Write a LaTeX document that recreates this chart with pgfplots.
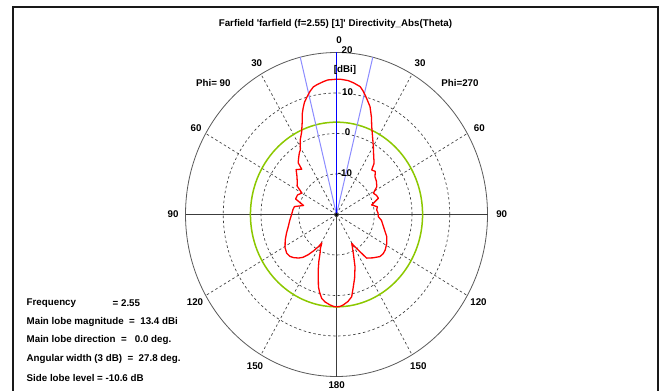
\documentclass[border=0pt]{standalone}
\usepackage{pgfplots}
\usepackage{pgfplotstable}
\pgfplotsset{compat=1.18}
\usepackage{fontspec}
\setmainfont{Liberation Sans}[Ligatures=TeXOff]
\definecolor{cstgreen}{RGB}{140,200,0}
\definecolor{lblue}{RGB}{140,140,255}
\definecolor{gridgray}{RGB}{60,60,60}
\definecolor{ringgray}{RGB}{90,90,90}
\newcommand\lbl{\fontsize{9.8}{11}\selectfont\bfseries}

% theta [deg], directivity [dBi], side (-1: Phi=90 left, +1: Phi=270 right)
\pgfplotstableread{
t d s
0 13.4 -1
4 13.3 -1
6 13.0 -1
9 12.5 -1
11 12.1 -1
13 11.2 -1
15 10.1 -1
17 9.0 -1
18.5 7.8 -1
20 6.5 -1
22 4.3 -1
24.5 2.3 -1
27.5 0.8 -1
31 -1.4 -1
33 -1.9 -1
36 -2.9 -1
38.5 -3.7 -1
39.5 -5.5 -1
44 -4.6 -1
48 -5.9 -1
53 -7.0 -1
56 -7.4 -1
60 -9.4 -1
65 -8.6 -1
70.5 -8.5 -1
75.7 -11.0 -1
80 -8.7 -1
84 -8.4 -1
90 -8.1 -1
97 -7.5 -1
103 -6.9 -1
109 -6.0 -1
115 -5.0 -1
121 -4.1 -1
126 -3.7 -1
130 -3.9 -1
133 -4.4 -1
137 -5.3 -1
140 -6.2 -1
143 -7.6 -1
146 -9.2 -1
149 -10.8 -1
151 -12.0 -1
153 -10.6 -1
155.5 -9.5 -1
158 -7.5 -1
160.5 -5.5 -1
163 -3.5 -1
165 -1.5 -1
167 -0.2 -1
169.3 1.1 -1
172 1.8 -1
175.6 2.4 -1
178 2.7 -1
180 2.8 -1
180 2.8 1
177.5 2.7 1
175.4 2.4 1
172 1.7 1
168.8 0.7 1
166 -1.6 1
163 -3.6 1
159.2 -6.2 1
155.1 -9.4 1
150.5 -11.8 1
146.7 -9.5 1
143.5 -6.6 1
138 -5.6 1
132.1 -4.5 1
128 -4.3 1
124.3 -4.4 1
118 -4.9 1
112.4 -5.6 1
103.6 -7.2 1
97 -8.0 1
92.8 -8.9 1
88 -9.0 1
84 -9.3 1
80 -9.0 1
75.8 -10.4 1
70.1 -8.2 1
66 -8.4 1
61.8 -8.9 1
57.2 -7.3 1
52 -6.6 1
47.6 -6.2 1
44 -5.2 1
40.3 -5.6 1
38.2 -3.9 1
34 -2.4 1
30.2 -0.6 1
26.5 1.4 1
23.3 3.6 1
21 5.8 1
18.4 8.1 1
15 10.1 1
13 11.3 1
11.2 12.2 1
8 12.8 1
5.4 13.2 1
2 13.4 1
0 13.4 1
}\farfielddata

\begin{document}
\begin{tikzpicture}
\useasboundingbox (0,0) rectangle (661bp,391bp);
\fill[white] (0,0) rectangle (661bp,391bp);
\begin{scope}
\clip (0,0) rectangle (661bp,391bp);
\begin{axis}[at={(0,0)}, anchor=south west, scale only axis,
  width=661bp, height=391bp,
  xmin=-89.139, xmax=85.96, ymin=-43.58, ymax=52.96,
  hide axis, clip=false]
  % dashed grid rings (-10, 0, 10 dBi)
  \draw[gridgray, line width=0.65bp, dash pattern=on 2.5bp off 2.5bp] (axis cs:0,0) ellipse [x radius=10, y radius=10];
  \draw[gridgray, line width=0.65bp, dash pattern=on 2.5bp off 2.5bp] (axis cs:0,0) ellipse [x radius=20, y radius=20];
  \draw[gridgray, line width=0.65bp, dash pattern=on 2.5bp off 2.5bp] (axis cs:0,0) ellipse [x radius=30, y radius=30];
  % dashed spokes
  \draw[gridgray, line width=0.65bp, dash pattern=on 2.5bp off 2.5bp]
    (axis cs:0,0) -- (axis cs:20,34.641)
    (axis cs:0,0) -- (axis cs:-20,34.641)
    (axis cs:0,0) -- (axis cs:34.641,20)
    (axis cs:0,0) -- (axis cs:-34.641,20)
    (axis cs:0,0) -- (axis cs:34.641,-20)
    (axis cs:0,0) -- (axis cs:-34.641,-20)
    (axis cs:0,0) -- (axis cs:20,-34.641)
    (axis cs:0,0) -- (axis cs:-20,-34.641);
  % outer ring (20 dBi)
  \draw[ringgray, line width=0.8bp] (axis cs:0,0) ellipse [x radius=40, y radius=40];
  % main axes
  \draw[gridgray, line width=0.8bp] (axis cs:-40,0) -- (axis cs:40,0);
  \draw[gridgray, line width=0.8bp] (axis cs:0,-40) -- (axis cs:0,40);
  % side lobe level circle (2.8 dBi)
  \draw[cstgreen, line width=1.5bp] (axis cs:0,0) ellipse [x radius=22.8, y radius=22.8];
  % 3 dB angular width lines (+-13.9 deg)
  \addplot[lblue, line width=1bp] coordinates {(0,0) (-9.607,38.829)};
  \addplot[lblue, line width=1bp] coordinates {(0,0) (9.607,38.829)};
  % pattern
  \addplot[red, line width=1.3bp, line join=round]
    table[x expr={\thisrow{s}*(\thisrow{d}+20)*sin(\thisrow{t})},
          y expr={(\thisrow{d}+20)*cos(\thisrow{t})}] {\farfielddata};
  % main lobe direction
  \addplot[blue, line width=1.6bp] coordinates {(0,0) (0,40)};
  \addplot[black, only marks, mark=*, mark size=1.2bp] coordinates {(0,0)};
\end{axis}
% labels
\begin{scope}[every node/.style={inner sep=0pt, font=\lbl}]
\node at (335.5bp,367bp) {Farfield 'farfield (f=2.55) [1]' Directivity\_Abs(Theta)};
\node at (339bp,351bp) {0};
\node at (347bp,341bp) {20};
\node at (345bp,321bp) {[dBi]};
\node at (347.5bp,299.3bp) {10};
\node at (347.5bp,259.3bp) {0};
\node at (345bp,218.3bp) {-10};
\node at (256.7bp,327.7bp) {30};
\node at (420bp,327.7bp) {30};
\node at (213.3bp,308.3bp) {Phi= 90};
\node at (460bp,307.7bp) {Phi=270};
\node at (196bp,262.7bp) {60};
\node at (479.3bp,262.7bp) {60};
\node at (173bp,177bp) {90};
\node at (501.7bp,177bp) {90};
\node at (195bp,89.3bp) {120};
\node at (478.5bp,89.3bp) {120};
\node at (255bp,25bp) {150};
\node at (418.3bp,25bp) {150};
\node at (336.7bp,5.5bp) {180};
\node[anchor=west] at (26.5bp,88bp) {Frequency};
\node[anchor=west] at (112.5bp,88bp) {= 2.55};
\node[anchor=west] at (26.5bp,69.3bp) {Main lobe magnitude \ = \ 13.4 dBi};
\node[anchor=west] at (26.5bp,51bp) {Main lobe direction \ = \ \ 0.0 deg.};
\node[anchor=west] at (26.5bp,32bp) {Angular width (3 dB) \ = \ 27.8 deg.};
\node[anchor=west] at (26.5bp,13.3bp) {Side lobe level = -10.6 dB};
\end{scope}
% frame
\draw[line width=2bp, black!90] (13bp,-2bp) -- (13bp,384bp) -- (658bp,384bp) -- (658bp,-2bp);
\end{scope}
\end{tikzpicture}
\end{document}
